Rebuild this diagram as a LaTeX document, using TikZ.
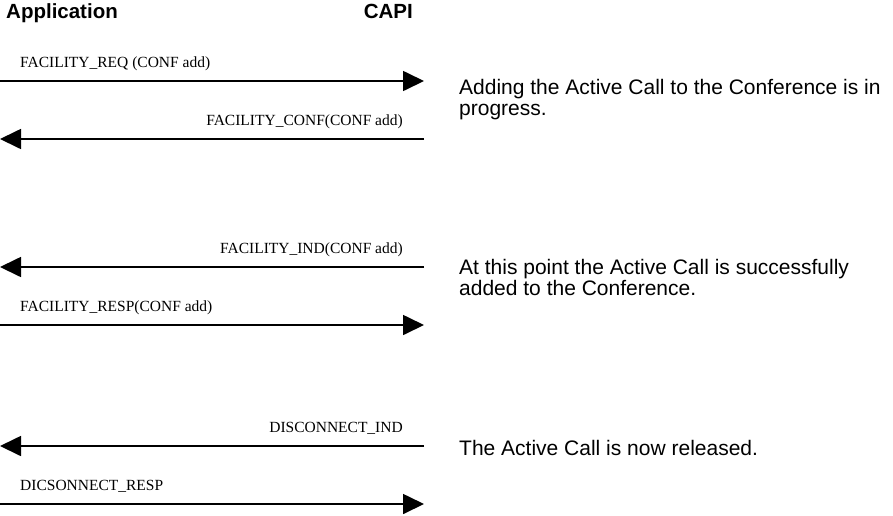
\documentclass[tikz,border=0pt]{standalone}
\usepackage{fontspec}
\setmainfont{Liberation Serif}
\setsansfont{Liberation Sans}
\usetikzlibrary{positioning,arrows.meta}

\begin{document}
\begin{tikzpicture}[x=1pt, y=-1pt,
    hdr/.style={font=\sffamily\bfseries\fontsize{20.5}{24}\selectfont, inner sep=0pt},
    lbl/.style={font=\rmfamily\fontsize{15.5}{18}\selectfont, inner sep=0pt},
    note/.style={font=\sffamily\fontsize{21}{21}\selectfont, inner sep=0pt, align=left, anchor=base west},
    msg/.style={line width=1.7pt, -{Triangle[length=21pt,width=20pt]}}
]
    \useasboundingbox (0,0) rectangle (893,515);

    \node[hdr, anchor=base west] (app) at (6,18) {Application};
    \node[hdr, anchor=base east] (capi) at (413,18) {CAPI};

    % conference add
    \coordinate (app1) at (0,81);  \coordinate (capi1) at (424,81);
    \coordinate (app2) at (0,139); \coordinate (capi2) at (424,139);
    \draw[msg] (app1) -- (capi1);
    \node[lbl, anchor=base west] (facreq) at ([xshift=20pt,yshift=14pt]app1) {FACILITY\_REQ (CONF add)};
    \draw[msg] (capi2) -- (app2);
    \node[lbl, anchor=base east] (facconf) at ([xshift=-21pt,yshift=14pt]capi2) {FACILITY\_CONF(CONF add)};
    % base of a two-line note is its last line
    \node[note] (progress) at (459,115) {Adding the Active Call to the Conference is in\\progress.};

    % conference indication
    \coordinate (app3) at (0,267); \coordinate (capi3) at (424,267);
    \coordinate (app4) at (0,325); \coordinate (capi4) at (424,325);
    \draw[msg] (capi3) -- (app3);
    \node[lbl, anchor=base east] (facind) at ([xshift=-21pt,yshift=14pt]capi3) {FACILITY\_IND(CONF add)};
    \draw[msg] (app4) -- (capi4);
    \node[lbl, anchor=base west] (facresp) at ([xshift=20pt,yshift=14pt]app4) {FACILITY\_RESP(CONF add)};
    \node[note] (added) at (459,295) {At this point the Active Call is successfully\\added to the Conference.};

    % release
    \coordinate (app5) at (0,446); \coordinate (capi5) at (424,446);
    \coordinate (app6) at (0,504); \coordinate (capi6) at (424,504);
    \draw[msg] (capi5) -- (app5);
    \node[lbl, anchor=base east] (discind) at ([xshift=-21pt,yshift=14pt]capi5) {DISCONNECT\_IND};
    \draw[msg] (app6) -- (capi6);
    \node[lbl, anchor=base west] (discresp) at ([xshift=20pt,yshift=14pt]app6) {DICSONNECT\_RESP};
    \node[note] (released) at (459,455) {The Active Call is now released.};
\end{tikzpicture}
\end{document}
